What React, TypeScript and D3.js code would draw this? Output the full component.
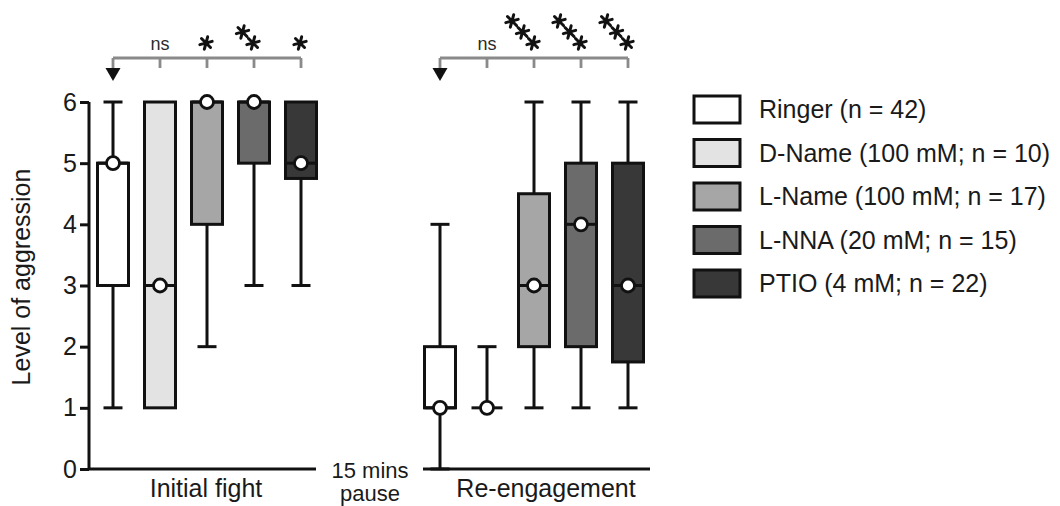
import React, { useEffect, useRef } from "react";
import * as d3 from "d3";

// Treatment groups, legend text and box fills
const groups = ["Ringer", "D-Name", "L-Name", "L-NNA", "PTIO"];
const legendLabels = [
  "Ringer (n = 42)",
  "D-Name (100 mM; n = 10)",
  "L-Name (100 mM; n = 17)",
  "L-NNA (20 mM; n = 15)",
  "PTIO (4 mM; n = 22)",
];
const fills = ["#ffffff", "#e3e3e3", "#a6a6a6", "#6b6b6b", "#383838"];

// Initial fight: box-plot summaries per group
const initialMin = [1, 1, 2, 3, 3];
const initialQ1 = [3, 1, 4, 5, 4.75];
const initialMedian = [5, 3, 6, 6, 5];
const initialQ3 = [5, 6, 6, 6, 6];
const initialMax = [6, 6, 6, 6, 6];

// Re-engagement: box-plot summaries per group
const reMin = [0, 1, 1, 1, 1];
const reQ1 = [1, 1, 2, 2, 1.75];
const reMedian = [1, 1, 3, 4, 3];
const reQ3 = [2, 1, 4.5, 5, 5];
const reMax = [4, 2, 6, 6, 6];

// Significance versus Ringer
const initialSig = ["", "ns", "*", "**", "*"];
const reSig = ["", "ns", "***", "***", "***"];

const yTicks = [0, 1, 2, 3, 4, 5, 6];

const FONT = "'Liberation Sans', Arial, Helvetica, sans-serif";
const INK = "#111";

type Panel = {
  title: string;
  titleX: number;
  axisX0: number;
  axisX1: number;
  xRange: [number, number];
  min: number[];
  q1: number[];
  med: number[];
  q3: number[];
  max: number[];
  sig: string[];
};

const panels: Panel[] = [
  {
    title: "Initial fight",
    titleX: 206,
    axisX0: 89,
    axisX1: 316,
    xRange: [113, 301],
    min: initialMin,
    q1: initialQ1,
    med: initialMedian,
    q3: initialQ3,
    max: initialMax,
    sig: initialSig,
  },
  {
    title: "Re-engagement",
    titleX: 546,
    axisX0: 423,
    axisX1: 650,
    xRange: [440, 628],
    min: reMin,
    q1: reQ1,
    med: reMedian,
    q3: reQ3,
    max: reMax,
    sig: reSig,
  },
];

const y = d3.scaleLinear().domain([0, 6]).range([469, 102]);

const BOX_W = 31;
const CAP_W = 19;
const STROKE = 3;
const BRACKET_Y = 58;
const BRACKET_COLOR = "#8a8a8a";

const asteriskPath = d3.symbol().type(d3.symbolAsterisk).size(115)() as string;

function Stars({ cx, count }: { cx: number; count: number }) {
  const items = d3.range(count).map((i) => {
    const k = count - 1 - i;
    return { x: cx - 1 - k * 10.5, y: 43 - k * 11 };
  });
  return (
    <g>
      {items.map((p, i) => (
        <path
          key={i}
          d={asteriskPath}
          transform={`translate(${p.x},${p.y}) rotate(15)`}
          fill="none"
          stroke={INK}
          strokeWidth={3}
          strokeLinecap="round"
        />
      ))}
    </g>
  );
}

function BoxPanel({ p }: { p: Panel }) {
  const x = d3.scalePoint<string>().domain(groups).range(p.xRange);
  const first = x(groups[0])!;
  const last = x(groups[groups.length - 1])!;
  return (
    <g>
      {/* whiskers */}
      {groups.map((g, i) => {
        const cx = x(g)!;
        return (
          <g key={`w-${g}`} stroke={INK} strokeWidth={STROKE} fill="none">
            {p.min[i] < p.q1[i] && (
              <>
                <line x1={cx} x2={cx} y1={y(p.q1[i])} y2={y(p.min[i])} />
                <line x1={cx - CAP_W / 2} x2={cx + CAP_W / 2} y1={y(p.min[i])} y2={y(p.min[i])} />
              </>
            )}
            {p.max[i] > p.q3[i] && (
              <>
                <line x1={cx} x2={cx} y1={y(p.q3[i])} y2={y(p.max[i])} />
                <line x1={cx - CAP_W / 2} x2={cx + CAP_W / 2} y1={y(p.max[i])} y2={y(p.max[i])} />
              </>
            )}
          </g>
        );
      })}
      {/* boxes */}
      {groups.map((g, i) => {
        const cx = x(g)!;
        return (
          <rect
            key={`b-${g}`}
            x={cx - BOX_W / 2}
            y={y(p.q3[i])}
            width={BOX_W}
            height={y(p.q1[i]) - y(p.q3[i])}
            fill={fills[i]}
            stroke={INK}
            strokeWidth={STROKE}
          />
        );
      })}
      {/* medians */}
      {groups.map((g, i) => {
        const cx = x(g)!;
        const my = y(p.med[i]);
        return (
          <g key={`m-${g}`}>
            <line x1={cx - BOX_W / 2} x2={cx + BOX_W / 2} y1={my} y2={my} stroke={INK} strokeWidth={STROKE} />
            <circle cx={cx} cy={my} r={6.5} fill="#fff" stroke={INK} strokeWidth={2.8} />
          </g>
        );
      })}
      {/* x axis line */}
      <line x1={p.axisX0} x2={p.axisX1} y1={y(0)} y2={y(0)} stroke={INK} strokeWidth={STROKE} />
      <text x={p.titleX} y={497} textAnchor="middle" fontFamily={FONT} fontSize={25} fill="#1a1a1a">
        {p.title}
      </text>
      {/* comparison bracket */}
      <g stroke={BRACKET_COLOR} strokeWidth={2.8} fill="none">
        <line x1={first} x2={last} y1={BRACKET_Y} y2={BRACKET_Y} />
        <line x1={first} x2={first} y1={BRACKET_Y} y2={69} />
        {groups.slice(1).map((g) => (
          <line key={`t-${g}`} x1={x(g)!} x2={x(g)!} y1={BRACKET_Y} y2={68} />
        ))}
      </g>
      <path d={`M${first - 7.5},68 L${first + 7.5},68 L${first},81 Z`} fill={INK} />
      {groups.map((g, i) => {
        const s = p.sig[i];
        if (!s) return null;
        const cx = x(g)!;
        if (s === "ns")
          return (
            <text key={`s-${g}`} x={cx} y={50} textAnchor="middle" fontFamily={FONT} fontSize={18} fill="#2a2a2a">
              ns
            </text>
          );
        return <Stars key={`s-${g}`} cx={cx} count={s.length} />;
      })}
    </g>
  );
}

function YAxis() {
  const ref = useRef<SVGGElement>(null);
  useEffect(() => {
    if (!ref.current) return;
    const g = d3.select(ref.current);
    g.call(d3.axisLeft(y).tickValues(yTicks).tickSize(9).tickPadding(3).tickFormat(d3.format("d")));
    g.select(".domain").attr("stroke", INK).attr("stroke-width", STROKE).attr("d", `M0,${y(6)}V${y(0)}`);
    g.selectAll(".tick line").attr("stroke", INK).attr("stroke-width", STROKE);
    g.selectAll(".tick text").attr("font-family", FONT).attr("font-size", 25).attr("fill", "#1a1a1a");
  }, []);
  return <g ref={ref} transform="translate(89,0)" />;
}

export default function App() {
  return (
    <svg width={1060} height={506} style={{ display: "block", position: "absolute", left: 0, top: 0, background: "#fff" }}>
      <rect width={1060} height={506} fill="#fff" />
      <YAxis />
      <text
        transform="translate(30,277) rotate(-90)"
        textAnchor="middle"
        fontFamily={FONT}
        fontSize={25}
        fill="#1a1a1a"
      >
        Level of aggression
      </text>
      {panels.map((p) => (
        <BoxPanel key={p.title} p={p} />
      ))}
      <text x={370} y={478} textAnchor="middle" fontFamily={FONT} fontSize={22} fill="#1a1a1a">
        15 mins
      </text>
      <text x={370} y={501} textAnchor="middle" fontFamily={FONT} fontSize={22} fill="#1a1a1a">
        pause
      </text>
      {/* legend */}
      {legendLabels.map((label, i) => {
        const top = 96 + i * 43.5;
        return (
          <g key={label}>
            <rect x={694} y={top} width={46} height={27} fill={fills[i]} stroke={INK} strokeWidth={STROKE} />
            <text x={759} y={top + 22} fontFamily={FONT} fontSize={25} fill="#1a1a1a">
              {label}
            </text>
          </g>
        );
      })}
    </svg>
  );
}
